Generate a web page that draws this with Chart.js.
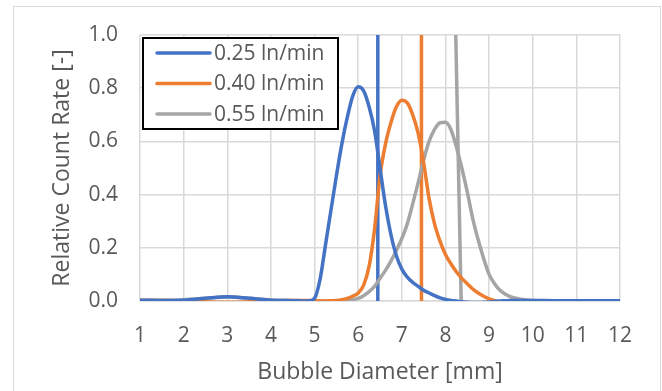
<!DOCTYPE html>
<html>
<head>
<meta charset="utf-8">
<script src="https://cdn.jsdelivr.net/npm/chart.js@4/dist/chart.umd.min.js"></script>
<style>
  html, body { margin: 0; padding: 0; background: #fff; }
  canvas { display: block; }
</style>
</head>
<body>
<canvas id="bubbleChart" width="662" height="391"></canvas>
<script>
// bubble size distributions for three gas flow rates
// coarse steps in the flat tails, finer steps where the peaks are
const diameters = [1, 1.5, 2, 2.5, 3, 3.5, 4, 4.5,
  4.75, 4.875, 5, 5.125, 5.25, 5.375, 5.5, 5.625, 5.75, 5.875,
  6, 6.125, 6.25, 6.375, 6.5, 6.625, 6.75, 6.875,
  7, 7.125, 7.25, 7.375, 7.5, 7.625, 7.75, 7.875,
  8, 8.125, 8.25, 8.375, 8.5, 8.625, 8.75, 8.875,
  9, 9.125, 9.25, 9.375, 9.5,
  10, 10.5, 11, 11.5, 12];
const rate025 = [0.003, 0.002, 0.003, 0.01, 0.016, 0.01, 0.003, 0.001,
  0.0, 0.001, 0.01, 0.08, 0.21, 0.34, 0.47, 0.59, 0.69, 0.77,
  0.805, 0.79, 0.73, 0.64, 0.5, 0.36, 0.25, 0.17,
  0.12, 0.09, 0.07, 0.055, 0.04, 0.03, 0.02, 0.012,
  0.006, 0.002, 0.0, -0.003, -0.005, -0.006, -0.006, -0.005,
  -0.004, -0.002, 0.0, 0.001, 0.002,
  0.002, 0.001, 0.001, 0.001, 0.001];
const rate040 = [0.002, 0.002, 0.0, -0.003, -0.005, -0.003, 0.0, 0.002,
  0.002, 0.002, 0.001, 0.0, 0.0, 0.001, 0.002, 0.005, 0.01, 0.018,
  0.03, 0.06, 0.13, 0.27, 0.47, 0.59, 0.67, 0.73,
  0.755, 0.745, 0.7, 0.63, 0.52, 0.385, 0.29, 0.225,
  0.175, 0.14, 0.11, 0.085, 0.065, 0.045, 0.03, 0.018,
  0.008, 0.002, -0.003, -0.004, -0.005,
  -0.002, 0.0, 0.0, 0.0, 0.0];
const rate055 = [0.003, 0.003, 0.005, 0.01, 0.015, 0.01, 0.004, 0.002,
  0.001, 0.0, 0.0, 0.0, 0.0, 0.0, 0.0, 0.001, 0.003, 0.006,
  0.01, 0.02, 0.035, 0.055, 0.085, 0.115, 0.15, 0.19,
  0.235, 0.29, 0.365, 0.445, 0.53, 0.6, 0.645, 0.67,
  0.672, 0.645, 0.58, 0.5, 0.41, 0.31, 0.23, 0.16,
  0.1, 0.065, 0.04, 0.025, 0.015,
  0.002, 0.001, 0.001, 0.001, 0.001];

const seriesLabels = ['0.25 ln/min', '0.40 ln/min', '0.55 ln/min'];
const seriesColors = ['#4472C4', '#ED7D31', '#A5A5A5'];

// mean diameter markers (bottom / top of each line)
const meanBottomX = [6.45, 7.45, 8.36];
const meanTopX = [6.45, 7.45, 8.23];
const meanTopY = 1.05;

const xTicks = [1, 2, 3, 4, 5, 6, 7, 8, 9, 10, 11, 12];
const yTicks = [0, 0.2, 0.4, 0.6, 0.8, 1.0];

const FONT = "'Open Sans', sans-serif";
const TEXT = '#595959';
const GRID = '#d9d9d9';

const curves = [rate025, rate040, rate055].map((vals, i) => ({
  label: seriesLabels[i],
  data: diameters.map((d, j) => ({ x: d, y: vals[j] })),
  borderColor: seriesColors[i],
  borderWidth: 3.5,
  pointRadius: 0,
  showLine: true,
  cubicInterpolationMode: 'monotone',
  borderCapStyle: 'round',
  borderJoinStyle: 'round'
}));

const markers = meanBottomX.map((x0, i) => ({
  label: '',
  data: [{ x: x0, y: 0 }, { x: meanTopX[i], y: meanTopY }],
  borderColor: seriesColors[i],
  borderWidth: 3.5,
  pointRadius: 0,
  showLine: true
}));

// outer frame of the chart area
const framePlugin = {
  id: 'frame',
  beforeDraw(chart) {
    const c = chart.ctx;
    c.save();
    c.fillStyle = '#fff';
    c.fillRect(0, 0, chart.width, chart.height);
    c.strokeStyle = GRID;
    c.lineWidth = 1;
    c.strokeRect(13.5, 6.5, 647, 400);
    c.restore();
  }
};

// legend box sitting inside the plot
const boxLegend = {
  id: 'boxLegend',
  afterDraw(chart) {
    const c = chart.ctx;
    const left = 143, top = 38, w = 195, h = 91;
    c.save();
    c.fillStyle = '#fff';
    c.fillRect(left, top, w, h);
    c.strokeStyle = '#000';
    c.lineWidth = 2;
    c.strokeRect(left, top, w, h);
    c.font = '21px ' + FONT;
    c.textBaseline = 'middle';
    c.fillStyle = TEXT;
    seriesLabels.forEach((lab, i) => {
      const y = top + 15 + i * 30.5;
      c.strokeStyle = seriesColors[i];
      c.lineWidth = 3.5;
      c.lineCap = 'round';
      c.beginPath();
      c.moveTo(157, y);
      c.lineTo(210, y);
      c.stroke();
      c.fillText(lab, 214, y + 1);
    });
    c.restore();
  }
};

new Chart(document.getElementById('bubbleChart'), {
  type: 'scatter',
  data: { datasets: [...curves, ...markers] },
  plugins: [framePlugin, boxLegend],
  options: {
    responsive: false,
    animation: false,
    devicePixelRatio: 1,
    layout: { padding: { left: 40, top: 35, right: 42, bottom: 0 } },
    plugins: {
      legend: { display: false },
      tooltip: { enabled: false }
    },
    scales: {
      x: {
        type: 'linear',
        min: 1,
        max: 12,
        afterBuildTicks(scale) { scale.ticks = xTicks.map(v => ({ value: v })); },
        afterFit(scale) { scale.height = 90; },
        grid: { color: GRID, lineWidth: 1.5, drawTicks: false },
        border: { color: GRID, width: 1.5 },
        ticks: {
          color: TEXT,
          font: { family: FONT, size: 21 },
          padding: 22,
          maxRotation: 0
        },
        title: {
          display: true,
          text: 'Bubble Diameter [mm]',
          color: TEXT,
          font: { family: FONT, size: 23 },
          padding: { top: 0, bottom: 5 }
        }
      },
      y: {
        type: 'linear',
        min: 0,
        max: 1,
        afterBuildTicks(scale) { scale.ticks = yTicks.map(v => ({ value: v })); },
        afterFit(scale) { scale.width = 100; },
        grid: { color: GRID, lineWidth: 1.5, drawTicks: false },
        border: { display: false },
        ticks: {
          color: TEXT,
          font: { family: FONT, size: 21 },
          padding: 22,
          callback: v => v.toFixed(1)
        },
        title: {
          display: true,
          text: 'Relative Count Rate [-]',
          color: TEXT,
          font: { family: FONT, size: 23 },
          padding: { top: 9, bottom: 0 }
        }
      }
    }
  }
});
</script>
</body>
</html>
